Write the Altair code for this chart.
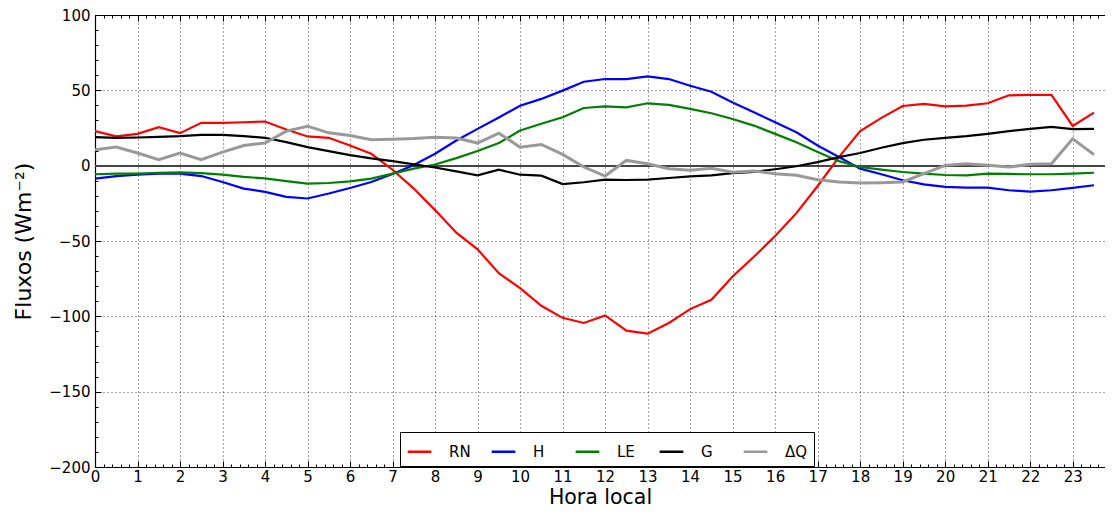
import altair as alt
import pandas as pd

hours = [0, 0.5, 1, 1.5, 2, 2.5, 3, 3.5, 4, 4.5, 5, 5.5, 6, 6.5, 7, 7.5,
         8, 8.5, 9, 9.5, 10, 10.5, 11, 11.5, 12, 12.5, 13, 13.5, 14, 14.5, 15, 15.5,
         16, 16.5, 17, 17.5, 18, 18.5, 19, 19.5, 20, 20.5, 21, 21.5, 22, 22.5, 23, 23.5]

rn = [22.9, 19.4, 21.1, 25.5, 21.6, 28.4, 28.4, 28.8, 29.3, 24.0, 19.4, 18.5, 13.4, 7.9, -2.7, -15.2,
      -29.5, -44.5, -55.5, -71.4, -81.3, -93.0, -101.0, -104.4, -99.4, -109.5, -111.5, -104.4, -95.2, -89.0, -73.6, -60.5,
      -46.7, -31.5, -13.5, 5.7, 22.9, 31.7, 39.6, 41.0, 39.4, 39.8, 41.4, 46.7, 47.0, 47.0, 26.4, 35.2]

hflux = [-8.6, -7.0, -6.0, -5.3, -5.3, -6.9, -10.8, -15.2, -17.4, -20.7, -21.8, -18.5, -14.8, -10.8, -5.5, 0.5,
         7.9, 16.7, 24.4, 32.0, 39.8, 44.3, 49.8, 55.7, 57.5, 57.5, 59.2, 57.5, 53.0, 49.1, 42.0, 35.4,
         28.8, 22.2, 13.4, 5.7, -2.0, -5.7, -9.7, -12.4, -14.1, -14.6, -14.6, -16.3, -17.2, -16.3, -14.8, -13.0]

le = [-5.7, -5.3, -5.3, -4.7, -4.5, -4.9, -6.0, -7.5, -8.4, -10.2, -11.9, -11.5, -10.4, -8.6, -5.3, -2.0,
      0.8, 5.0, 9.7, 15.0, 23.3, 27.8, 32.1, 38.3, 39.4, 38.7, 41.4, 40.3, 37.7, 34.8, 31.0, 26.6,
      21.1, 15.6, 9.0, 3.0, -0.9, -2.6, -4.2, -5.3, -6.2, -6.4, -5.3, -5.5, -5.7, -5.7, -5.3, -4.7]

g = [18.9, 18.5, 18.7, 19.1, 19.6, 20.5, 20.5, 19.6, 18.5, 15.6, 12.3, 9.7, 7.0, 4.8, 3.0, 0.9,
     -1.2, -3.8, -6.4, -2.6, -6.0, -6.6, -12.2, -11.0, -9.3, -9.5, -9.3, -8.2, -7.1, -6.4, -4.9, -4.2,
     -2.4, -0.4, 2.4, 5.7, 8.4, 11.9, 15.0, 17.2, 18.5, 19.6, 21.1, 22.9, 24.4, 25.7, 24.2, 24.4]

dq = [10.6, 12.3, 8.4, 4.0, 8.4, 4.0, 9.0, 13.4, 15.0, 22.9, 26.2, 21.8, 20.0, 17.2, 17.6, 18.0,
      18.9, 18.3, 15.0, 21.6, 12.3, 14.1, 7.5, -0.9, -6.9, 3.5, 1.3, -2.0, -3.1, -1.8, -4.4, -3.5,
      -5.3, -6.4, -9.3, -10.8, -11.5, -11.3, -10.8, -5.3, 0.2, 1.3, 0.2, -0.9, 0.9, 1.3, 17.8, 7.3]

series_names = ["RN", "H", "LE", "G", "ΔQ"]
series_colors = ["#ff0000", "#0000ff", "#008000", "#000000", "#999999"]

x_major = list(range(0, 24))
y_major = [-200, -150, -100, -50, 0, 50, 100]

rows = []
for name, vals in zip(series_names, [rn, hflux, le, g, dq]):
    for t, v in zip(hours, vals):
        rows.append({"hora": t, "fluxo": v, "serie": name})
df = pd.DataFrame(rows)

W, H = 1010, 452
XMAX = 23.76
FONT = "DejaVu Sans"

x_minor = [i / 5 for i in range(0, 119) if i % 5 != 0]
y_minor = [v for v in range(-200, 101, 10) if v % 50 != 0]

xscale = alt.Scale(domain=[0, XMAX], nice=False, zero=False)
yscale = alt.Scale(domain=[-200, 100], nice=False, zero=False)

lines = alt.Chart(df).mark_line(clip=True).encode(
    x=alt.X("hora:Q", scale=xscale,
            axis=alt.Axis(orient="bottom", values=x_major, title="Hora local",
                          grid=True, gridDash=[1, 3], gridColor="#000000", gridOpacity=0.75,
                          gridWidth=1, ticks=False, labelFlush=False, labelOverlap=False,
                          labelFontSize=15, labelPadding=2, titleFontSize=20.5,
                          titleFontWeight="normal", titlePadding=3, domainColor="#000000",
                          domainWidth=1.2, labelColor="#000000", titleColor="#000000")),
    y=alt.Y("fluxo:Q", scale=yscale,
            axis=alt.Axis(orient="left", values=y_major, title="Fluxos (Wm⁻²)",
                          grid=True, gridDash=[1, 3], gridColor="#000000", gridOpacity=0.75,
                          gridWidth=1, ticks=False, labelFontSize=15, labelPadding=5,
                          titleFontSize=22, titleFontWeight="normal", titlePadding=13,
                          domainColor="#000000", domainWidth=1.2, labelColor="#000000",
                          titleColor="#000000")),
    color=alt.Color("serie:N", sort=series_names,
                    scale=alt.Scale(domain=series_names, range=series_colors),
                    legend=alt.Legend(title=None, orient="none", legendX=305, legendY=417,
                                      direction="horizontal", symbolType="stroke",
                                      symbolSize=560, symbolStrokeWidth=2.5,
                                      labelFontSize=15, labelOffset=16, columnPadding=14,
                                      padding=6, strokeColor="#000000", fillColor="#ffffff",
                                      gridAlign="all", labelColor="#000000",
                                      cornerRadius=0)),
    strokeWidth=alt.condition(alt.datum.serie == "ΔQ", alt.value(3), alt.value(2.2)),
)

zero = alt.Chart(df).mark_rule(color="#444444", strokeWidth=1.5).encode(
    y=alt.datum(0, scale=yscale, axis=None)
)


def tick_layer(xaxis, yaxis):
    return alt.Chart(df).mark_point(opacity=0).encode(
        x=alt.X("hora:Q", scale=xscale, axis=xaxis),
        y=alt.Y("fluxo:Q", scale=yscale, axis=yaxis),
    )


def tax(orient, offset, values, size, domain=False):
    return alt.Axis(orient=orient, offset=offset, values=values, tickSize=size,
                    labels=False, title=None, grid=False, domain=domain,
                    tickColor="#000000", tickWidth=1, domainColor="#000000",
                    domainWidth=1.2)


l2 = tick_layer(tax("top", -H, x_major, 6), tax("right", -W, y_major, 6))
l3 = tick_layer(tax("top", -H, x_minor, 3), tax("right", -W, y_minor, 3))
l4 = tick_layer(tax("bottom", -H, x_major, 6, domain=True), None)
l5 = tick_layer(tax("bottom", -H, x_minor, 3), None)

chart = alt.layer(zero, lines, l2, l3, l4, l5).resolve_axis(
    x="independent", y="independent"
).properties(
    width=W, height=H,
    autosize=alt.AutoSizeParams(type="none"),
    padding={"left": 87, "top": 7, "right": 0, "bottom": 40},
).configure(font=FONT).configure_view(stroke=None)

chart.save("out.html", embed_options={"renderer": "svg", "actions": False})
